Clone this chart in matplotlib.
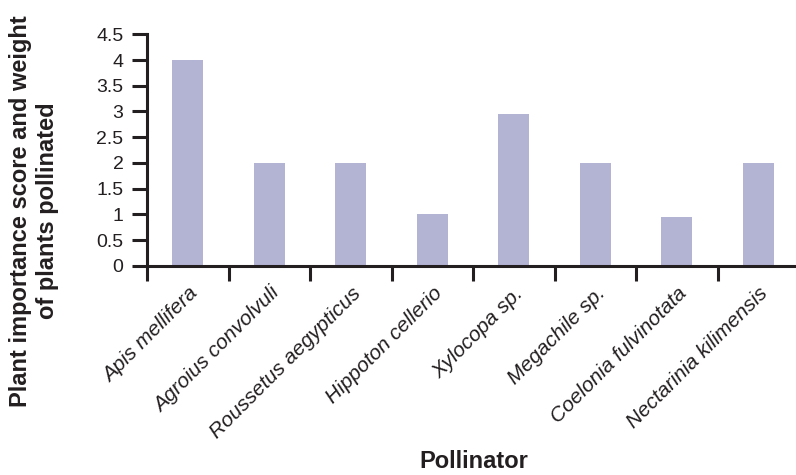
import matplotlib.pyplot as plt
import numpy as np

pollinators = ['Apis mellifera', 'Agroius convolvuli', 'Roussetus aegypticus',
               'Hippoton cellerio', 'Xylocopa sp.', 'Megachile sp.',
               'Coelonia fulvinotata', 'Nectarinia kilimensis']
scores = [4, 2, 2, 1, 2.95, 2, 0.95, 2]
y_ticks = [0, 0.5, 1, 1.5, 2, 2.5, 3, 3.5, 4, 4.5]
y_tick_labels = ['0', '0.5', '1', '1.5', '2', '2.5', '3', '3.5', '4', '4.5']

dark = '#231f20'
plt.rcParams['font.family'] = ['Liberation Sans', 'DejaVu Sans']

fig = plt.figure(figsize=(7.96, 4.75), dpi=100)
ax = fig.add_axes([0.1847, 0.4406, 0.8193, 0.4872])

x = np.arange(len(pollinators))
ax.bar(x, scores, width=0.38, color='#b3b3d3', zorder=1)

ax.set_xlim(-0.5, len(pollinators) - 0.5)
ax.set_ylim(0, 4.5)

for side in ['top', 'right']:
    ax.spines[side].set_visible(False)
for side in ['left', 'bottom']:
    ax.spines[side].set_linewidth(2.2)
    ax.spines[side].set_color(dark)
    ax.spines[side].set_zorder(3)

ax.set_yticks(y_ticks)
ax.set_yticklabels(y_tick_labels)
ax.tick_params(axis='y', direction='out', length=11, width=2.2, color=dark,
               labelsize=14, labelcolor=dark, pad=6)

# ticks sit on category boundaries, labels at the centres
ax.set_xticks(np.arange(len(pollinators) + 1) - 0.5)
ax.set_xticklabels([])
ax.tick_params(axis='x', which='major', direction='out', length=11, width=2.2,
               color=dark)
ax.set_xticks(x, minor=True)
ax.set_xticklabels(pollinators, minor=True, rotation=45, ha='right',
                   rotation_mode='anchor', fontstyle='italic', fontsize=15,
                   color=dark)
ax.tick_params(axis='x', which='minor', length=0, pad=13)

fig.text(0.043, 0.556, 'Plant importance score and weight\nof plants pollinated',
         rotation=90, ha='center', va='center', multialignment='center',
         fontsize=17, fontweight='bold', color=dark)
fig.text(0.595, 0.029, 'Pollinator', ha='center', va='center',
         fontsize=17, fontweight='bold', color=dark)

fig.savefig('out.png', dpi=100)
